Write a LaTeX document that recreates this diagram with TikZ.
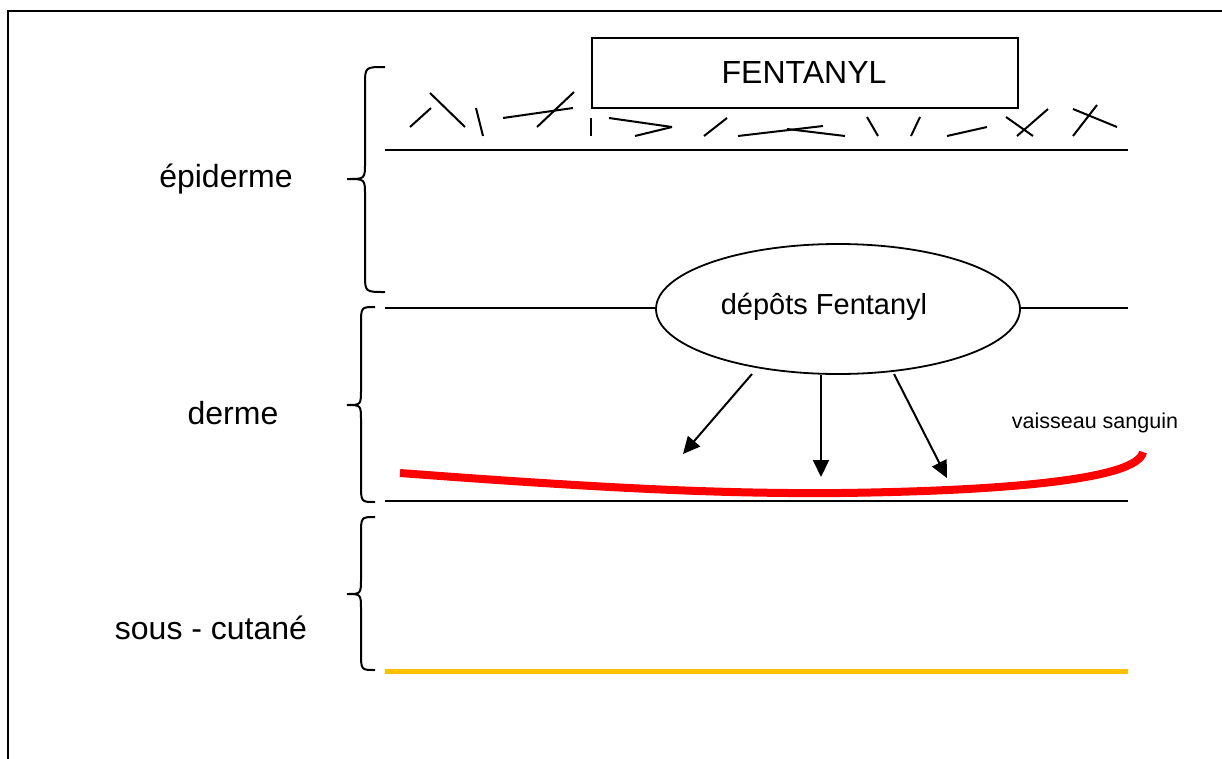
\documentclass[tikz,border=0pt]{standalone}
\usepackage{fontspec}
\setmainfont{Liberation Sans}
\usetikzlibrary{shapes.geometric,arrows.meta}
\definecolor{vred}{RGB}{255,0,0}
\definecolor{hypo}{RGB}{255,192,0}
\tikzset{
  lbl/.style={inner sep=0pt,font=\fontsize{32}{38}\selectfont},
  layer/.style={line width=2pt,black},
  tick/.style={line width=2pt,black},
  brace/.style={line width=2pt,black},
  arr/.style={line width=2pt,-{Triangle[length=17pt,width=16pt]}},
}
\newcommand{\mybrace}[6]{% xe yt yb ym xs xt
  \draw[brace] (#1,#2) .. controls (#5,#2) .. (#5,#2+18) -- (#5,#4-16)
    .. controls (#5,#4) .. (#6,#4) .. controls (#5,#4) .. (#5,#4+16)
    -- (#5,#3-18) .. controls (#5,#3) .. (#1,#3);}
\begin{document}
\begin{tikzpicture}[x=1pt,y=-1pt]
\useasboundingbox (0,0) rectangle (1222,758);
\begin{scope}
\clip (0,0) rectangle (1222,758);
\draw[line width=2.2pt] (8,11) rectangle (1260,800);
\end{scope}

% fentanyl patch
\node[draw,line width=2pt,minimum width=426pt,minimum height=70pt,inner sep=0pt] (patch) at (805,73) {};
\node[lbl] (fent) at (804,72) {FENTANYL};

% ticks (stratum corneum)
\draw[tick] (410,127)--(431,108);
\draw[tick] (430,93)--(465,127);
\draw[tick] (476,108)--(483,136);
\draw[tick] (503,118)--(573,108);
\draw[tick] (537,127)--(574,92);
\draw[tick] (591,118)--(591,136);
\draw[tick] (609,118)--(672,127);
\draw[tick] (635,136)--(672,127);
\draw[tick] (704,136)--(727,118);
\draw[tick] (738,136)--(823,126);
\draw[tick] (787,129)--(845,136);
\draw[tick] (867,117)--(878,136);
\draw[tick] (920,117)--(911,136);
\draw[tick] (947,136)--(987,127);
\draw[tick] (1006,117)--(1033,136);
\draw[tick] (1048,109)--(1017,136);
\draw[tick] (1073,136)--(1097,105);
\draw[tick] (1073,109)--(1117,127);

% layers
\coordinate (l1a) at (385,150); \coordinate (l1b) at (1128,150);
\draw[layer] (l1a)--(l1b);
\node[draw,ellipse,line width=1.8pt,minimum width=364pt,minimum height=130pt,inner sep=0pt] (ell) at (838,309) {};
\node[inner sep=0pt,font=\fontsize{29}{34}\selectfont] (dep) at (824,307) {dépôts Fentanyl};
\coordinate (l2a) at (385,308); \coordinate (l2b) at (1128,308);
\draw[layer] (l2a)--(l2a -| ell.west);
\draw[layer] (l2b -| ell.east)--(l2b);
\coordinate (l3a) at (385,501); \coordinate (l3b) at (1128,501);
\draw[layer] (l3a)--(l3b);
\coordinate (l4a) at (385,671); \coordinate (l4b) at (1128,671);
\draw[line width=5pt,hypo] (l4a)--(l4b);

% blood vessel
\draw[line width=8pt,vred] (400,473) .. controls (600,488) and (720,494) .. (840,493)
  .. controls (1000,491) and (1138,480) .. (1143,452);
\node[inner sep=0pt,font=\fontsize{21.5}{26}\selectfont] (vs) at (1095,423) {vaisseau sanguin};

% arrows
\coordinate (a1s) at (752,374); \coordinate (a1e) at (683,454);
\coordinate (a2s) at (821,375); \coordinate (a2e) at (821,477);
\coordinate (a3s) at (894,374); \coordinate (a3e) at (947,478);
\draw[arr] (a1s)--(a1e);
\draw[arr] (a2s)--(a2e);
\draw[arr] (a3s)--(a3e);

% braces
\mybrace{385}{67}{292}{179}{365}{347}
\mybrace{375}{307}{502}{405}{361}{347}
\mybrace{375}{517}{670}{594}{361}{347}

% labels
\node[lbl] (epi) at (226,179) {épiderme};
\node[lbl] (der) at (233,413) {derme};
\node[lbl] (sc) at (211,628) {sous - cutané};
\end{tikzpicture}
\end{document}
